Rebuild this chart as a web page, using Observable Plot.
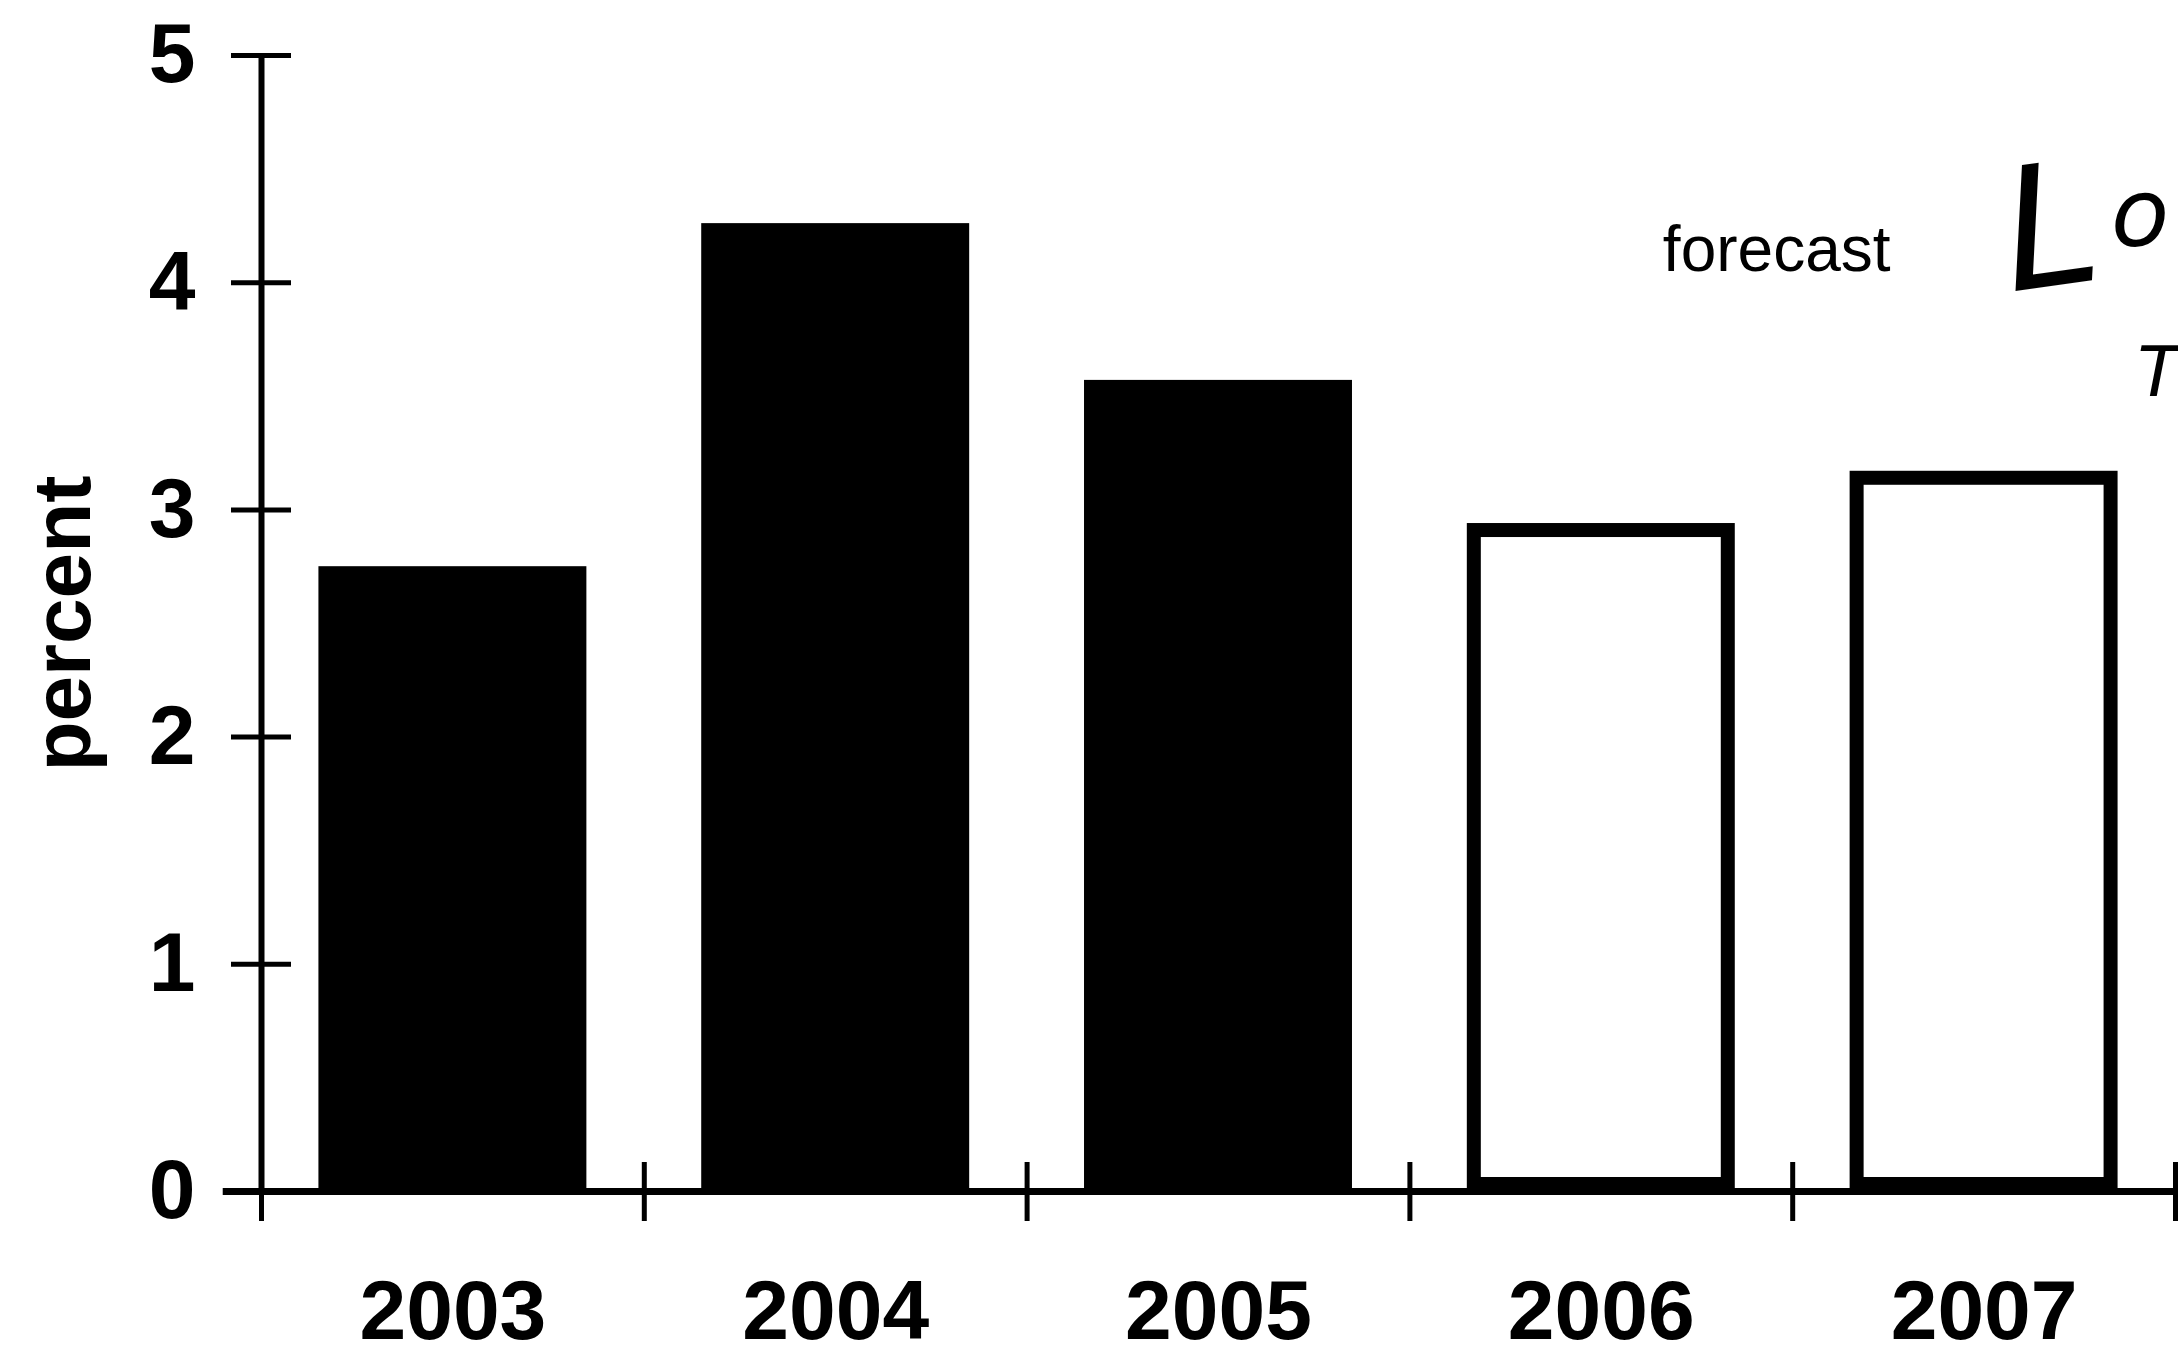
<!DOCTYPE html>
<html>
<head>
<meta charset="utf-8">
<script src="https://cdn.jsdelivr.net/npm/d3@7"></script>
<script src="https://cdn.jsdelivr.net/npm/@observablehq/plot@0.6"></script>
<style>
  html, body { margin: 0; padding: 0; background: #fff; }
  #chart svg { display: block; }
</style>
</head>
<body>
<div id="chart"></div>
<script>
// Data
const years = [2003, 2004, 2005, 2006, 2007];
const values = [2.75, 4.26, 3.57, 2.94, 3.17];
const kinds = ["actual", "actual", "actual", "forecast", "forecast"];
const yTicks = [0, 1, 2, 3, 4, 5];
const xBoundaries = [2002.5, 2003.5, 2004.5, 2005.5, 2006.5, 2007.5];
const yLabel = "percent";
const forecastLabel = "forecast";
const handNotes = ["L", "o", "T"];

const rows = years.map((year, i) => ({year, value: values[i], kind: kinds[i]}));
const actual = rows.filter(d => d.kind === "actual");
const forecast = rows.filter(d => d.kind === "forecast");
const half = 0.35;
const font = "'Liberation Sans', Arial, Helvetica, sans-serif";
const hand = "'DejaVu Sans', sans-serif";

const chart = Plot.plot({
  width: 2178,
  height: 1358,
  marginLeft: 261,
  marginRight: 3,
  marginTop: 55,
  marginBottom: 167,
  style: {fontFamily: font, background: "#fff", color: "#000", overflow: "visible"},
  x: {type: "linear", domain: [2002.5, 2007.5], axis: null},
  y: {domain: [0, 5], axis: null},
  marks: [
    // actual bars (filled)
    Plot.rectY(actual, {x1: d => d.year - half, x2: d => d.year + half, y: "value", fill: "#000"}),
    // forecast bars (hollow, thick outline)
    Plot.rectY(forecast, {
      x1: d => d.year - half, x2: d => d.year + half, y: "value",
      fill: "#fff", stroke: "#000", strokeWidth: 14,
      insetTop: 7, insetBottom: 7, insetLeft: 7, insetRight: 7
    }),
    // axis lines
    Plot.ruleX([2002.5], {y1: 0, y2: 5, stroke: "#000", strokeWidth: 6}),
    Plot.ruleY([0], {x1: 2002.4, x2: 2007.5, stroke: "#000", strokeWidth: 7}),
    // y ticks crossing axis + labels
    Plot.axisY(yTicks, {
      anchor: "left", tickSize: 60, dx: 30, tickPadding: 36,
      strokeWidth: 5, fontSize: 84, fontWeight: "bold", label: null,
      tickFormat: d => String(d)
    }),
    // x boundary ticks crossing axis
    Plot.axisX(xBoundaries, {
      anchor: "bottom", tickSize: 59, dy: -29, strokeWidth: 5,
      tickFormat: () => "", label: null
    }),
    // x year labels
    Plot.axisX(years, {
      anchor: "bottom", tickSize: 0, tickPadding: 88,
      fontSize: 84, fontWeight: "bold", label: null,
      tickFormat: d => String(d)
    }),
    // y axis title
    Plot.text([yLabel], {
      x: 2002.5, y: 2.5, dx: -198, rotate: -90, text: d => d,
      fontSize: 82, fontWeight: "bold", fill: "#000"
    }),
    // forecast annotation
    Plot.text([forecastLabel], {
      x: 2006.5, y: 4.05, dx: -16, text: d => d, lineAnchor: "bottom",
      fontSize: 64, fill: "#000"
    }),
    // handwritten notes
    Plot.text([handNotes[0]], {
      x: 2007.07, y: 3.96, text: d => d, textAnchor: "start", lineAnchor: "bottom",
      fontSize: 170, fontStyle: "italic", fontFamily: hand,
      fontWeight: 200, fill: "#000", rotate: -8
    }),
    Plot.text([handNotes[1]], {
      x: 2007.07, y: 4.16, dx: 100, text: d => d, textAnchor: "start", lineAnchor: "bottom",
      fontSize: 95, fontStyle: "italic", fontFamily: hand,
      fontWeight: 200, fill: "#000"
    }),
    Plot.text([handNotes[2]], {
      x: 2007.5, y: 3.5, dx: -38, text: d => d, textAnchor: "start", lineAnchor: "bottom",
      fontSize: 70, fontStyle: "italic", fontFamily: hand,
      fontWeight: 200, fill: "#000"
    })
  ]
});

document.getElementById("chart").appendChild(chart);
</script>
</body>
</html>
